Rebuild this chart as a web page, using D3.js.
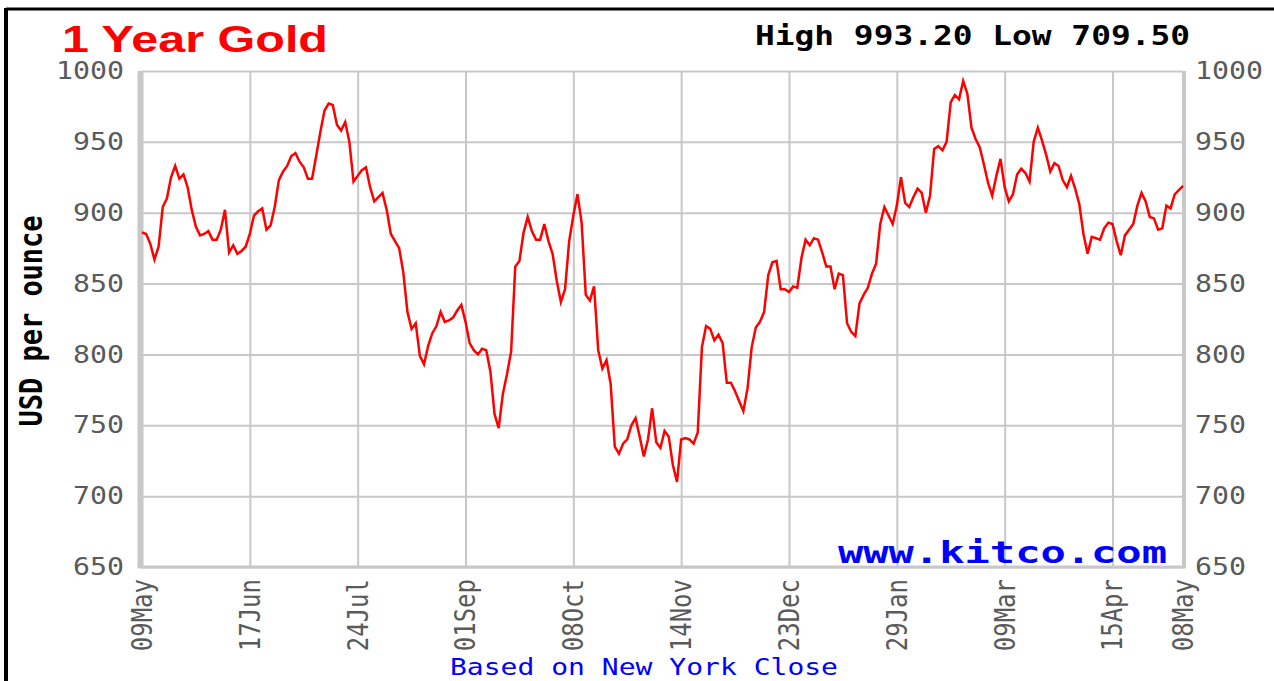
<!DOCTYPE html>
<html>
<head>
<meta charset="utf-8">
<script src="https://cdn.jsdelivr.net/npm/d3@7"></script>
<style>
body { margin: 0; background: #fff; }
</style>
</head>
<body>
<script>
// daily New York close, 09 May 2008 -> 08 May 2009
var prices = [
	886, 885, 878, 867, 876, 904, 910, 925, 933, 924, 927, 918, 902, 890, 884, 885, 887, 881, 881, 888,
	902, 872, 877, 871, 873, 876, 885, 898, 901, 903, 888, 891, 904, 923, 929, 933, 940, 942, 936, 932,
	924, 924, 940, 957, 972, 977, 976, 962, 958, 964, 950, 922, 926, 930, 932, 918, 908, 911, 914, 902,
	885, 880, 875, 858, 830, 818, 822, 799, 793, 806, 815, 820, 830, 823, 824, 826, 831, 835, 823, 808,
	803, 800, 804, 803, 788, 758, 748, 772, 786, 802, 862, 866, 886, 897, 887, 881, 881, 892, 880, 871,
	852, 837, 846, 880, 898, 913, 893, 842, 838, 848, 803, 790, 796, 779, 735, 730, 737, 740, 750, 755,
	742, 728, 740, 762, 738, 734, 746, 742, 722, 710, 740, 741, 740, 737, 745, 805, 820, 818, 810, 814,
	808, 780, 780, 774, 767, 760, 776, 805, 819, 823, 830, 856, 865, 866, 846, 846, 844, 848, 847, 868,
	881, 877, 882, 881, 872, 862, 862, 846, 857, 856, 822, 816, 813, 836, 842, 847, 857, 864, 892, 904,
	898, 892, 905, 925, 907, 904, 911, 917, 914, 900, 912, 945, 947, 944, 950, 978, 983, 980, 993, 984,
	960, 952, 946, 934, 921, 912, 926, 938, 918, 908, 913, 927, 931, 928, 922, 950, 960, 951, 941, 929,
	935, 933, 923, 918, 926, 917, 906, 885, 871, 883, 882, 881, 889, 893, 892, 880, 870, 884, 888, 892,
	905, 914, 908, 897, 896, 888, 889, 905, 903, 913, 916, 919
];
var tickIndex = [0, 26, 52, 78, 104, 130, 156, 182, 208, 234, 251];
var tickLabels = ["09May", "17Jun", "24Jul", "01Sep", "08Oct", "14Nov", "23Dec", "29Jan", "09Mar", "15Apr", "08May"];
var yTicks = [650, 700, 750, 800, 850, 900, 950, 1000];

var width = 1274, height = 681;
var plot = {left: 142, right: 1183, top: 71, bottom: 567};
var gridColor = "#c8c8c8";
var mono = "'DejaVu Sans Mono', monospace";
var stretchX = 1.18; // the original bitmap is widened a bit

var svg = d3.select("body").append("svg")
	.attr("width", width)
	.attr("height", height);

var xScale = d3.scaleLinear().domain([0, prices.length - 1]).range([plot.left, plot.right]);
var yScale = d3.scaleLinear().domain([650, 1000]).range([plot.bottom, plot.top]);

// outer frame (only top and left visible)
svg.append("line").attr("x1", 6).attr("y1", 9).attr("x2", width).attr("y2", 9)
	.attr("stroke", "#000").attr("stroke-width", 3);
svg.append("line").attr("x1", 6).attr("y1", 8).attr("x2", 6).attr("y2", height)
	.attr("stroke", "#000").attr("stroke-width", 4);

// grid
var grid = svg.append("g").attr("class", "grid");
grid.append("g")
	.attr("transform", "translate(" + plot.left + ",0)")
	.call(d3.axisLeft(yScale).tickValues(yTicks).tickSize(-(plot.right - plot.left)).tickFormat(""))
	.call(function(g) {
		g.select(".domain").remove();
		g.selectAll("line").attr("stroke", gridColor).attr("stroke-width", 2);
	});
grid.append("g")
	.attr("transform", "translate(0," + plot.bottom + ")")
	.call(d3.axisBottom(xScale).tickValues(tickIndex).tickSize(-(plot.bottom - plot.top)).tickFormat(""))
	.call(function(g) {
		g.select(".domain").remove();
		g.selectAll("line").attr("stroke", gridColor).attr("stroke-width", 2);
	});

// heavier frame of the plot
svg.append("line").attr("x1", plot.left - 2).attr("y1", plot.top).attr("x2", plot.left - 2).attr("y2", plot.bottom + 1)
	.attr("stroke", gridColor).attr("stroke-width", 5);
svg.append("line").attr("x1", plot.right + 1).attr("y1", plot.top).attr("x2", plot.right + 1).attr("y2", plot.bottom + 1)
	.attr("stroke", gridColor).attr("stroke-width", 4);
svg.append("line").attr("x1", plot.left - 4).attr("y1", plot.bottom).attr("x2", plot.right + 3).attr("y2", plot.bottom)
	.attr("stroke", gridColor).attr("stroke-width", 3);

// y labels, both sides
function yLabels(axis, x, anchor) {
	svg.append("g")
		.attr("transform", "translate(" + x + ",0)")
		.call(axis.tickValues(yTicks).tickSize(0).tickPadding(0).tickFormat(d3.format("d")))
		.call(function(g) {
			g.select(".domain").remove();
			g.selectAll("text")
				.attr("font-family", mono)
				.attr("font-size", 24)
				.attr("fill", "#5a5a5a")
				.attr("text-anchor", anchor)
				.attr("dy", "0.32em")
				.attr("textLength", function() { return this.textContent.length * 17; })
				.attr("lengthAdjust", "spacingAndGlyphs");
		});
}
yLabels(d3.axisLeft(yScale), 124, "end");
yLabels(d3.axisRight(yScale), 1195, "start");

// x labels, rotated
svg.append("g").selectAll("text")
	.data(tickIndex)
	.enter().append("text")
	.attr("transform", function(d) { return "translate(" + xScale(d) + ",579) rotate(-90) scale(1," + stretchX + ")"; })
	.attr("text-anchor", "end")
	.attr("dy", "0.35em")
	.attr("font-family", mono)
	.attr("font-size", 24)
	.attr("fill", "#5a5a5a")
	.text(function(d, i) { return tickLabels[i]; });

// price line
var line = d3.line()
	.x(function(d, i) { return xScale(i); })
	.y(function(d) { return yScale(d); });

svg.append("path")
	.datum(prices)
	.attr("d", line)
	.attr("fill", "none")
	.attr("stroke", "#ff0000")
	.attr("stroke-width", 2.5)
	.attr("stroke-linejoin", "miter");

// texts
svg.append("text")
	.attr("x", 62).attr("y", 52)
	.attr("font-family", "'Liberation Sans', Arial, sans-serif")
	.attr("font-weight", "bold")
	.attr("font-size", 37)
	.attr("fill", "#ff0000")
	.attr("textLength", 266).attr("lengthAdjust", "spacingAndGlyphs")
	.text("1 Year Gold");

svg.append("text")
	.attr("x", 755).attr("y", 45)
	.attr("font-family", mono)
	.attr("font-weight", "bold")
	.attr("font-size", 27)
	.attr("fill", "#000")
	.attr("textLength", 435).attr("lengthAdjust", "spacingAndGlyphs")
	.text("High 993.20 Low 709.50");

svg.append("text")
	.attr("transform", "translate(42,321) rotate(-90) scale(1," + stretchX + ")")
	.attr("text-anchor", "middle")
	.attr("font-family", mono)
	.attr("font-weight", "bold")
	.attr("font-size", 27)
	.attr("fill", "#000")
	.text("USD per ounce");

svg.append("text")
	.attr("x", 838).attr("y", 563)
	.attr("font-family", mono)
	.attr("font-weight", "bold")
	.attr("font-size", 30)
	.attr("fill", "#0000ff")
	.attr("textLength", 329).attr("lengthAdjust", "spacingAndGlyphs")
	.text("www.kitco.com");

svg.append("text")
	.attr("x", 450).attr("y", 675)
	.attr("font-family", mono)
	.attr("font-size", 23)
	.attr("fill", "#0000ff")
	.attr("textLength", 388).attr("lengthAdjust", "spacingAndGlyphs")
	.text("Based on New York Close");
</script>
</body>
</html>
